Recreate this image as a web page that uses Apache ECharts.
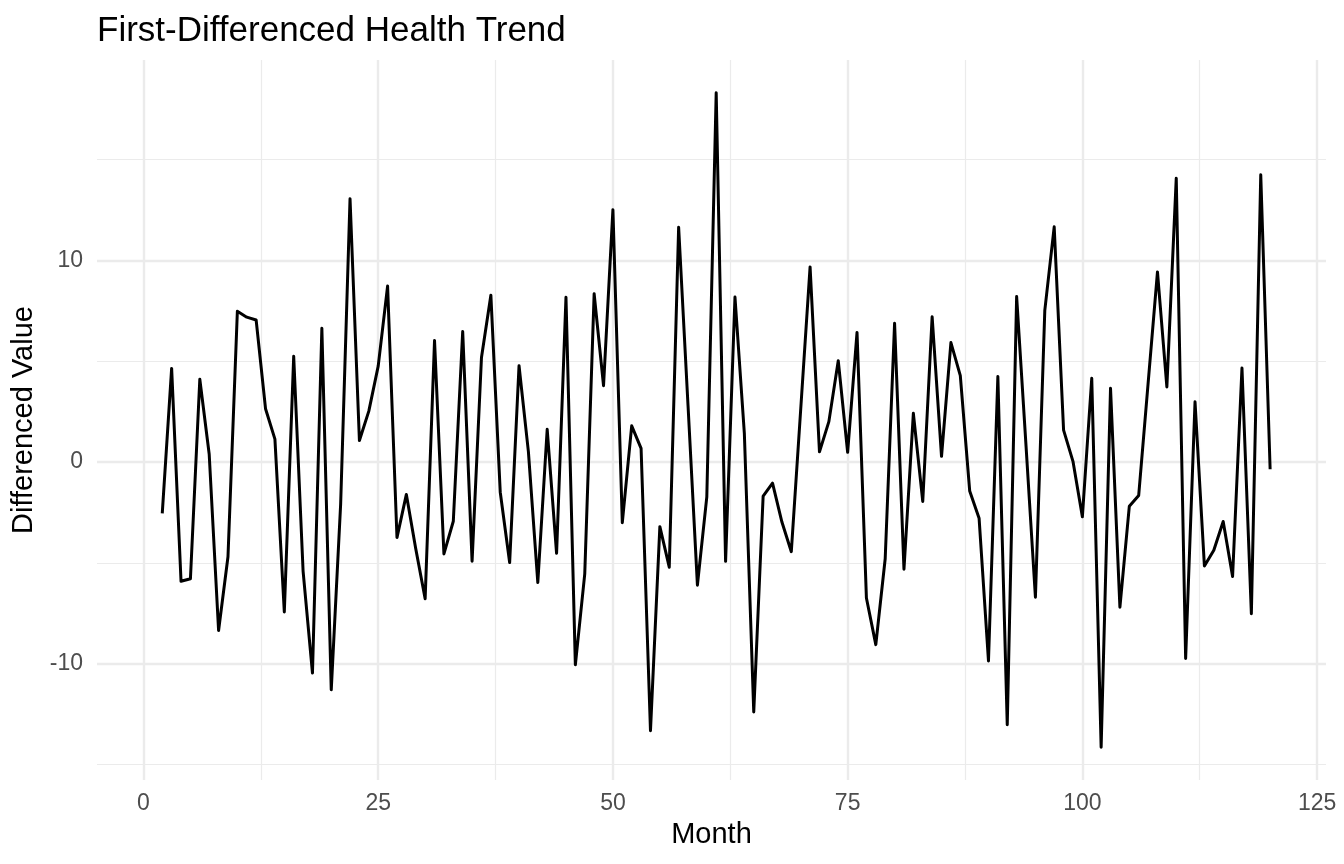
<!DOCTYPE html>
<html>
<head>
<meta charset="utf-8">
<title>First-Differenced Health Trend</title>
<script src="https://cdn.jsdelivr.net/npm/echarts@6/dist/echarts.min.js"></script>
<style>
  html, body { margin: 0; padding: 0; background: #fff; }
  #chart { width: 1344px; height: 864px; }
</style>
</head>
<body>
<div id="chart"></div>
<script>
// differenced values, month 2 .. month 120 (month 1 has no difference)
const firstMonth = 2;
const diffValues = [
  -2.55, 4.64, -5.92, -5.79, 4.10, 0.38, -8.36, -4.70, 7.47, 7.18,
  7.04, 2.64, 1.13, -7.44, 5.24, -5.41, -10.47, 6.63, -11.30, -2.10,
  13.05, 1.06, 2.52, 4.75, 8.72, -3.75, -1.61, -4.30, -6.78, 6.02,
  -4.56, -2.94, 6.47, -4.92, 5.18, 8.27, -1.50, -4.99, 4.77, 0.50,
  -5.98, 1.62, -4.53, 8.17, -10.06, -5.55, 8.34, 3.78, 12.51, -3.01,
  1.79, 0.67, -13.33, -3.21, -5.22, 11.64, 2.80, -6.11, -1.73, 18.31,
  -4.93, 8.18, 1.40, -12.40, -1.69, -1.05, -2.98, -4.45, 2.60, 9.67,
  0.50, 2.00, 5.02, 0.48, 6.42, -6.75, -9.06, -4.80, 6.88, -5.32,
  2.41, -1.96, 7.20, 0.28, 5.92, 4.28, -1.44, -2.79, -9.87, 4.24,
  -13.03, 8.20, 0.80, -6.71, 7.52, 11.66, 1.58, 0.03, -2.72, 4.15,
  -14.15, 3.65, -7.20, -2.20, -1.66, 3.88, 9.42, 3.72, 14.07, -9.75,
  2.98, -5.16, -4.38, -2.95, -5.68, 4.66, -7.53, 14.24, -0.36
];

const xTicks = [0, 25, 50, 75, 100, 125];
const xMinorTicks = [12.5, 37.5, 62.5, 87.5, 112.5];
const yTicks = [-10, 0, 10];
const yMinorTicks = [-15, -5, 5, 15];

const seriesData = diffValues.map((v, i) => [firstMonth + i, v]);

// ggplot style 5% expansion of the data range (months 1..120)
const xLo = 1, xHi = firstMonth + diffValues.length - 1;
const yLo = Math.min(...diffValues), yHi = Math.max(...diffValues);
const xPad = (xHi - xLo) * 0.05, yPad = (yHi - yLo) * 0.05;

const font = 'Liberation Sans, Arial, Helvetica, sans-serif';
const gridColor = '#EBEBEB';

function xAxisOf(ticks, major) {
  return {
    type: 'value',
    min: xLo - xPad,
    max: xHi + xPad,
    position: 'bottom',
    name: major ? 'Month' : '',
    nameLocation: 'middle',
    nameGap: 40,
    nameTextStyle: { color: '#000', fontSize: 29, fontFamily: font },
    axisLine: { show: false },
    axisTick: { show: false, customValues: ticks },
    axisLabel: {
      show: major, customValues: ticks, margin: 12,
      color: '#4D4D4D', fontSize: 23, fontFamily: font
    },
    splitLine: { show: true, lineStyle: { color: gridColor, width: major ? 2.4 : 1.2 } }
  };
}

function yAxisOf(ticks, major) {
  return {
    type: 'value',
    min: yLo - yPad,
    max: yHi + yPad,
    position: 'left',
    name: major ? 'Differenced Value' : '',
    nameLocation: 'middle',
    nameGap: 54,
    nameTextStyle: { color: '#000', fontSize: 29, fontFamily: font },
    axisLine: { show: false },
    axisTick: { show: false, customValues: ticks },
    axisLabel: {
      show: major, customValues: ticks, margin: 14,
      color: '#4D4D4D', fontSize: 23, fontFamily: font
    },
    splitLine: { show: true, lineStyle: { color: gridColor, width: major ? 2.4 : 1.2 } }
  };
}

const chart = echarts.init(document.getElementById('chart'), null, { renderer: 'canvas' });

const option = {
  animation: false,
  backgroundColor: '#fff',
  title: {
    text: 'First-Differenced Health Trend',
    left: 92,
    top: 9,
    textStyle: { color: '#000', fontSize: 35, fontWeight: 'normal', fontFamily: font }
  },
  grid: { left: 97, right: 18, top: 60, bottom: 84 },
  xAxis: [xAxisOf(xTicks, true), xAxisOf(xMinorTicks, false)],
  yAxis: [yAxisOf(yTicks, true), yAxisOf(yMinorTicks, false)],
  series: [
    {
      type: 'line',
      xAxisIndex: 0,
      yAxisIndex: 0,
      data: seriesData,
      showSymbol: false,
      lineStyle: { color: '#000', width: 3, join: 'round' },
      z: 5
    }
  ]
};

chart.setOption(option);
</script>
</body>
</html>
